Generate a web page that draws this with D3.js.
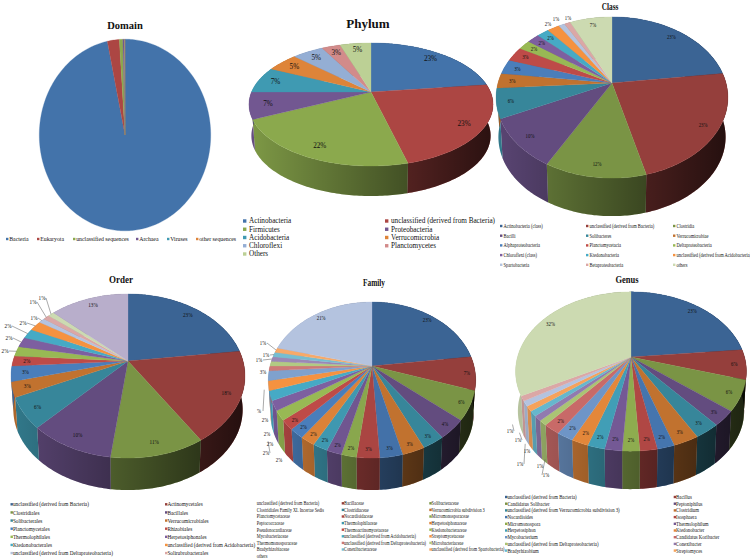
<!DOCTYPE html>
<html>
<head>
<meta charset="utf-8">
<style>
  html, body { margin: 0; padding: 0; background: #fff; }
  svg { display: block; }
  text { font-family: "Liberation Serif", "Times New Roman", serif; fill: #111; }
</style>
</head>
<body>
<script src="https://cdn.jsdelivr.net/npm/d3@7"></script>
<script>
// values, percent of sequences per taxonomic level
var domainCategories = ["Bacteria", "Eukaryota", "unclassified sequences", "Archaea", "Viruses", "other sequences"],
    domainValues = [96.7, 2.25, 0.65, 0.3, 0.05, 0.05];

var phylumCategories = ["Actinobacteria", "unclassified (derived from Bacteria)", "Firmicutes", "Proteobacteria",
      "Acidobacteria", "Verrucomicrobia", "Chloroflexi", "Planctomycetes", "Others"],
    phylumValues = [23, 23, 22, 7, 7, 5, 5, 3, 5];

var classCategories = ["Actinobacteria (class)", "unclassified (derived from Bacteria)", "Clostridia",
      "Bacilli", "Solibacteres", "Verrucomicrobiae",
      "Alphaproteobacteria", "Planctomycetacia", "Deltaproteobacteria",
      "Chloroflexi (class)", "Ktedonobacteria", "unclassified (derived from Acidobacteria)",
      "Spartobacteria", "Betaproteobacteria", "others"],
    classValues = [23, 23, 12, 10, 6, 3, 3, 3, 2, 2, 2, 2, 1, 1, 7];

var orderCategories = ["unclassified (derived from Bacteria)", "Actinomycetales", "Clostridiales", "Bacillales",
      "Solibacterales", "Verrucomicrobiales", "Planctomycetales", "Rhizobiales",
      "Thermolophilales", "Herpetosiphonales", "Ktedonobacterales", "unclassified (derived from Acidobacteria)",
      "unclassified (derived from Deltaproteobacteria)", "Solirubrobacterales"],
    orderValues = [23, 18, 11, 10, 6, 3, 3, 2, 2, 2, 2, 2, 1, 1, 1, 13];

var familyCategories = ["unclassified (derived from Bacteria)", "Bacillaceae", "Solibacteraceae",
      "Clostridiales Family XI. Incertae Sedis", "Clostridiaceae", "Verrucomicrobia subdivision 3",
      "Planctomycetaceae", "Nocardioidaceae", "Micromonosporaceae",
      "Peptococcaceae", "Thermolophilaceae", "Herpetosiphonaceae",
      "Pseudonocardiaceae", "Thermoactinomycetaceae", "Ktedonobacteraceae",
      "Mycobacteriaceae", "unclassified (derived from Acidobacteria)", "Streptomycetaceae",
      "Thermomonosporaceae", "unclassified (derived from Deltaproteobacteria)", "Microbacteriaceae",
      "Bradyrhizobiaceae", "Conexibacteraceae", "unclassified (derived from Spartobacteria)",
      "others"],
    familyValues = [23, 7, 6, 4, 3, 3, 3, 3, 2, 2, 2, 2, 2, 2, 2, 2, 2, 2, 2, 1, 1, 1, 1, 1, 21];

var genusCategories = ["unclassified (derived from Bacteria)", "Bacillus",
      "Candidatus Solibacter", "Peptoniphilus",
      "unclassified (derived from Verrucomicrobia subdivision 3)", "Clostridium",
      "Nocardioides", "Isosphaera",
      "Micromonospora", "Thermolophilum",
      "Herpetosiphon", "Ktedonobacter",
      "Mycobacterium", "Candidatus Koribacter",
      "unclassified (derived from Deltaproteobacteria)", "Conexibacter",
      "Bradyrhizobium", "Streptomyces"],
    genusValues = [23, 6, 6, 3, 3, 3, 2, 2, 2, 2, 2, 2, 2, 2, 1, 1, 1, 1, 1, 1, 32];

// hue ramps: dark, full, pale. Excel spreads the shades over however many cycles a chart needs
var hueRamps = [
  ["#3b6494", "#4a7ebb", "#b4c3df"],
  ["#953f3c", "#be4b48", "#dba7a6"],
  ["#7a9445", "#98b954", "#ccdab1"],
  ["#634c7f", "#7d5fa0", "#b8aecb"],
  ["#37869a", "#46aac5", "#a5d0dd"],
  ["#c1722f", "#f59240", "#f8c08f"]
];

// x, y of outside labels are px from the pie's apex, third number is how much of the leader to draw
var charts = [
  {id: "domain", title: "Domain", categories: domainCategories, values: domainValues, shades: [0.28],
   cx: 125, cy: 135, rx: 85.7, ry: 95.8, p: 0, wall: 0, noLabels: true,
   titleX: 125, titleY: 25, titleSize: 10.5, titleSx: 1,
   legend: {xs: [6, 37, 73, 136, 167, 196], y: 239, dy: 0, off: 3.2, size: 5.8, sx: 1, marker: 2.4}},
  {id: "phylum", title: "Phylum", categories: phylumCategories, values: phylumValues, shades: [0.28, 0.85],
   cx: 371, cy: 92, rx: 119.5, ry: 59, p: 0.203, wall: 30, labelR: 0.85, labelSize: 7.2,
   titleX: 368, titleY: 23, titleSize: 13, titleSx: 1,
   legend: {xs: [243, 385], y: 221, dy: 8.25, off: 6, size: 7.2, sx: 1, marker: 3.4}},
  {id: "class", title: "Class", categories: classCategories, values: classValues, shades: [0, 0.5, 1],
   cx: 612, cy: 83, rx: 114, ry: 78, p: 0.18, wall: 38, labelR: 0.88, labelSize: 6, labelSx: 0.8,
   outer: {11: [-64, -59], 12: [-56, -64], 13: [-44, -65]},
   titleX: 610, titleY: 6, titleSize: 10, titleSx: 0.73,
   legend: {xs: [500, 586, 673], y: 226, dy: 9.7, off: 3.5, size: 5.6, sx: 0.8, marker: 2.4}},
  {id: "order", title: "Order", categories: orderCategories, values: orderValues, shades: [0, 0.5, 1],
   cx: 128, cy: 361, rx: 115, ry: 79.3, p: 0.183, wall: 32, labelR: 0.88, labelSize: 6.5, labelSx: 0.8,
   outer: {8: [-123, -10, 1], 9: [-119, -23, 1], 10: [-120, -35, 1], 11: [-105, -38, 1],
           12: [-94, -43, 1], 13: [-95, -59, 1], 14: [-86, -63, 1]},
   titleX: 121, titleY: 279, titleSize: 11, titleSx: 0.82,
   legend: {xs: [10.5, 165], y: 504.3, dy: 8.13, off: 2.4, size: 6.5, sx: 0.81, marker: 2.4}},
  {id: "family", title: "Family", categories: familyCategories, values: familyValues, shades: [0, 0.25, 0.5, 0.75, 1],
   cx: 372, cy: 366, rx: 102, ry: 75.5, p: 0.18, wall: 32, labelR: 0.92, labelSize: 6, labelSx: 0.8,
   labelText: {19: "%", 20: "3%"},
   outer: {14: [-93, 94], 15: [-106, 87, 0.25], 16: [-102, 78], 17: [-105, 68], 18: [-107, 54],
           19: [-113, 45, 0.5], 20: [-109, 6], 21: [-113, -6, 1], 22: [-106, -11, 1], 23: [-109, -23, 1]},
   titleX: 374, titleY: 282, titleSize: 10, titleSx: 0.73,
   legend: {xs: [254.5, 341.7, 429.3], y: 503.3, dy: 6.6, off: 2.3, size: 6, sx: 0.72, marker: 2.4, skipFirstColumn: true}},
  {id: "genus", title: "Genus", categories: genusCategories, values: genusValues, shades: [0, 0.33, 0.67, 1],
   cx: 631, cy: 357, rx: 113.5, ry: 77, p: 0.182, wall: 38, labelR: 0.9, labelSize: 6, labelSx: 0.8,
   outer: {14: [-85, 118, 0.3], 15: [-91, 109], 16: [-111, 107, 0.4], 17: [-104, 94],
           18: [-113, 83, 0.2], 19: [-121, 74, 0.2]},
   titleX: 627, titleY: 279, titleSize: 11, titleSx: 0.77,
   legend: {xs: [505, 673.7], y: 497, dy: 6.7, off: 2.4, size: 6, sx: 0.8, marker: 2.4}}
];

var width = 750,
    height = 559,
    taper = 0.98;

var svg = d3.select("body").append("svg")
    .attr("width", width)
    .attr("height", height);

var defs = svg.append("defs");

var line = d3.line();

var pie = d3.pie()
    .sort(null)
    .value(function(d) { return d; });

charts.forEach(drawChart);

// one shade step per cycle of six hues
function sliceColor(chart, i) {
  var t = chart.shades[Math.floor(i / 6) % chart.shades.length];
  return d3.scaleLinear()
      .domain([0, 0.5, 1])
      .range(hueRamps[i % 6])
      .interpolate(d3.interpolateRgb)(t);
}

// a point on the disc with a little perspective, the front of the pie comes nearer
function project(chart, angle, r) {
  var u = Math.sin(angle) * r,
      v = -Math.cos(angle) * r,
      s = 1 / (1 - chart.p * v);
  return [chart.cx + chart.rx * u * s, chart.cy + chart.ry * v * s];
}

// the same rim point on the underside of the pie
function projectBottom(chart, angle) {
  var pt = project(chart, angle, 1),
      front = chart.ry / (1 - chart.p);
  return [chart.cx + (pt[0] - chart.cx) * taper,
          chart.cy + (pt[1] - chart.cy) * taper + chart.wall + front * (1 - taper)];
}

function arcAngles(a0, a1) {
  var angles = d3.range(a0, a1, Math.PI / 180);
  angles.push(a1);
  return angles;
}

function topPath(chart, d) {
  var pts = arcAngles(d.startAngle, d.endAngle).map(function(a) { return project(chart, a, 1); });
  pts.unshift([chart.cx, chart.cy]);
  return line(pts) + "Z";
}

function wallPath(chart, d) {
  var angles = arcAngles(d.startAngle, d.endAngle),
      rim = angles.map(function(a) { return project(chart, a, 1); }),
      under = angles.map(function(a) { return projectBottom(chart, a); }).reverse();
  return line(rim.concat(under)) + "Z";
}

function drawChart(chart) {
  var slices = pie(chart.values),
      g = svg.append("g").attr("class", chart.id);

  if (chart.wall > 0) {
    // the sides get darker towards the right
    var grad = defs.append("linearGradient")
        .attr("id", "shade-" + chart.id)
        .attr("gradientUnits", "userSpaceOnUse")
        .attr("x1", chart.cx - chart.rx).attr("x2", chart.cx + chart.rx)
        .attr("y1", 0).attr("y2", 0);
    grad.append("stop").attr("offset", 0).attr("stop-color", "#000").attr("stop-opacity", 0.1);
    grad.append("stop").attr("offset", 1).attr("stop-color", "#000").attr("stop-opacity", 0.75);

    g.selectAll(".wall")
      .data(slices)
      .enter().append("path")
        .attr("class", "wall")
        .attr("d", function(d) { return wallPath(chart, d); })
        .attr("fill", function(d) { return sliceColor(chart, d.index); });

    g.selectAll(".wall-shade")
      .data(slices)
      .enter().append("path")
        .attr("class", "wall-shade")
        .attr("d", function(d) { return wallPath(chart, d); })
        .attr("fill", "url(#shade-" + chart.id + ")");
  }

  g.selectAll(".slice")
    .data(slices)
    .enter().append("path")
      .attr("class", "slice")
      .attr("d", function(d) { return topPath(chart, d); })
      .attr("fill", function(d) { return sliceColor(chart, d.index); })
      .attr("stroke", function(d) { return sliceColor(chart, d.index); })
      .attr("stroke-width", 0.3);

  if (!chart.noLabels) drawLabels(chart, g, slices);

  g.append("text")
      .attr("class", "title")
      .attr("transform", "translate(" + chart.titleX + "," + chart.titleY + ")scale(" + chart.titleSx + ",1)")
      .attr("text-anchor", "middle")
      .attr("dy", "0.35em")
      .attr("font-weight", "bold")
      .attr("font-size", chart.titleSize)
      .text(chart.title);

  drawLegend(chart, g);
}

function labelPosition(chart, d) {
  var outer = chart.outer && chart.outer[d.index];
  if (outer) return [chart.cx + outer[0], chart.cy + outer[1]];
  return project(chart, (d.startAngle + d.endAngle) / 2, chart.labelR);
}

function drawLabels(chart, g, slices) {
  var sx = chart.labelSx || 1;

  g.selectAll(".leader")
    .data(slices.filter(function(d) { return chart.outer && chart.outer[d.index] && chart.outer[d.index][2]; }))
    .enter().append("line")
      .attr("class", "leader")
      .each(function(d) {
        var from = labelPosition(chart, d),
            to = project(chart, (d.startAngle + d.endAngle) / 2, 1),
            frac = chart.outer[d.index][2];
        d3.select(this)
            .attr("x1", from[0] + (from[0] < to[0] ? 4 : -4))
            .attr("y1", from[1])
            .attr("x2", from[0] + (to[0] - from[0]) * frac)
            .attr("y2", from[1] + (to[1] - from[1]) * frac);
      })
      .attr("stroke", "#555")
      .attr("stroke-width", 0.5);

  g.selectAll(".label")
    .data(slices)
    .enter().append("text")
      .attr("class", "label")
      .attr("transform", function(d) {
        var pos = labelPosition(chart, d);
        return "translate(" + pos[0] + "," + pos[1] + ")scale(" + sx + ",1)";
      })
      .attr("text-anchor", "middle")
      .attr("dy", "0.35em")
      .attr("font-size", chart.labelSize)
      .text(function(d) {
        if (chart.labelText && chart.labelText[d.index]) return chart.labelText[d.index];
        return Math.round(d.value) + "%";
      });
}

// legends run row by row, like Excel lays them out
function drawLegend(chart, g) {
  var lg = chart.legend,
      cols = lg.xs.length;

  var item = g.selectAll(".legend")
    .data(chart.categories)
    .enter().append("g")
      .attr("class", "legend")
      .attr("transform", function(d, i) {
        return "translate(" + lg.xs[i % cols] + "," + (lg.y + Math.floor(i / cols) * lg.dy) + ")";
      });

  item.filter(function(d, i) { return !(lg.skipFirstColumn && i % cols === 0); })
    .append("rect")
      .attr("x", 0)
      .attr("y", -lg.marker / 2)
      .attr("width", lg.marker)
      .attr("height", lg.marker)
      .attr("fill", function(d) { return sliceColor(chart, chart.categories.indexOf(d)); });

  item.append("text")
      .attr("transform", "translate(" + lg.off + ",0)scale(" + lg.sx + ",1)")
      .attr("dy", "0.33em")
      .attr("font-size", lg.size)
      .text(function(d) { return d; });
}
</script>
</body>
</html>
